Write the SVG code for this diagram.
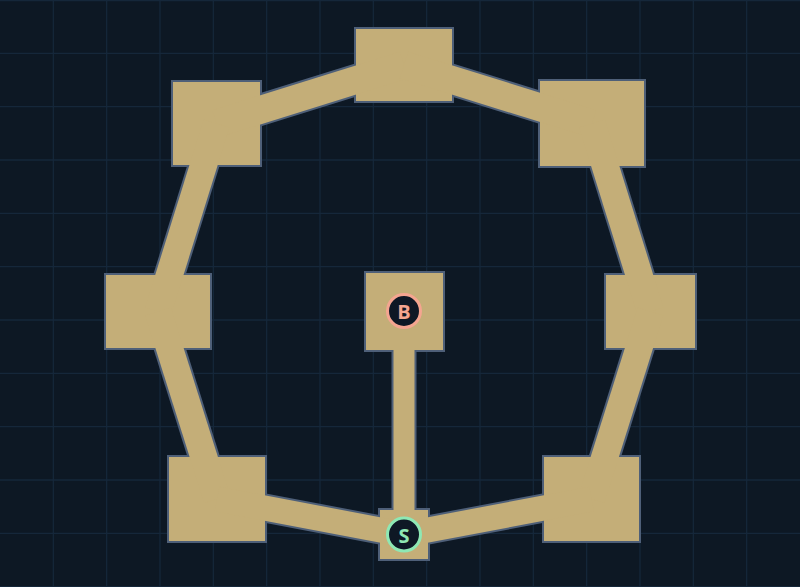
<svg xmlns="http://www.w3.org/2000/svg" width="800" height="587" viewBox="0 0 800 587">
  <style>
    .grid { stroke: #15273a; stroke-width: 1.3; fill: none; }
    .cor-out { stroke: #4e5f78; fill: none; stroke-linecap: butt; }
    .cor-in { stroke: #c4ae78; fill: none; stroke-linecap: butt; }
    .room { fill: #c4ae78; stroke: #4e5f78; stroke-width: 2; }
    .badge { fill: #0e1825; stroke-width: 3; }
    .lbl { font-family: "Open Sans", "DejaVu Sans", sans-serif; font-weight: 700; font-size: 20px; text-anchor: middle; dominant-baseline: central; }
  </style>
  <rect x="0" y="0" width="800" height="587" fill="#0d1824"/>
  <g id="grid" class="grid">
    <path d="M0,0.5H800 M0,53.33H800 M0,106.67H800 M0,160H800 M0,213.33H800 M0,266.67H800 M0,320H800 M0,373.33H800 M0,426.67H800 M0,480H800 M0,533.33H800 M0,586.67H800 M53.33,0V587 M106.67,0V587 M160,0V587 M213.33,0V587 M266.67,0V587 M320,0V587 M373.33,0V587 M426.67,0V587 M480,0V587 M533.33,0V587 M586.67,0V587 M640,0V587 M693.33,0V587 M746.67,0V587"/>
  </g>
  <g id="connectors">
    <g class="cor-out">
      <line x1="404" y1="65" x2="216.5" y2="123.5" stroke-width="32"/>
      <line x1="404" y1="65" x2="592" y2="123.5" stroke-width="32"/>
      <line x1="216.5" y1="123.5" x2="158" y2="311.5" stroke-width="31"/>
      <line x1="592" y1="123.5" x2="650.5" y2="311.5" stroke-width="31"/>
      <line x1="158" y1="311.5" x2="217" y2="499" stroke-width="31"/>
      <line x1="650.5" y1="311.5" x2="591.5" y2="499" stroke-width="31"/>
      <line x1="217" y1="499" x2="404" y2="534.5" stroke-width="29"/>
      <line x1="591.5" y1="499" x2="404" y2="534.5" stroke-width="29"/>
      <line x1="404" y1="311.5" x2="404" y2="534.5" stroke-width="25"/>
    </g>
  </g>
  <g id="rooms">
    <g id="room-top"><rect class="room" x="355" y="28" width="98" height="74"/></g>
    <g id="room-top-left"><rect class="room" x="172" y="81" width="89" height="85"/></g>
    <g id="room-top-right"><rect class="room" x="539" y="80" width="106" height="87"/></g>
    <g id="room-mid-left"><rect class="room" x="105" y="274" width="106" height="75"/></g>
    <g id="room-mid-right"><rect class="room" x="605" y="274" width="91" height="75"/></g>
    <g id="room-bottom-left"><rect class="room" x="168" y="456" width="98" height="86"/></g>
    <g id="room-bottom-right"><rect class="room" x="543" y="456" width="97" height="86"/></g>
    <g id="room-boss"><rect class="room" x="365" y="272" width="79" height="79"/></g>
    <g id="room-start"><rect class="room" x="379" y="509" width="50" height="51"/></g>
  </g>
  <g id="connector-fill" class="cor-in">
    <line x1="404" y1="65" x2="216.5" y2="123.5" stroke-width="28"/>
    <line x1="404" y1="65" x2="592" y2="123.5" stroke-width="28"/>
    <line x1="216.5" y1="123.5" x2="158" y2="311.5" stroke-width="27"/>
    <line x1="592" y1="123.5" x2="650.5" y2="311.5" stroke-width="27"/>
    <line x1="158" y1="311.5" x2="217" y2="499" stroke-width="27"/>
    <line x1="650.5" y1="311.5" x2="591.5" y2="499" stroke-width="27"/>
    <line x1="217" y1="499" x2="404" y2="534.5" stroke-width="25"/>
    <line x1="591.5" y1="499" x2="404" y2="534.5" stroke-width="25"/>
    <line x1="404" y1="311.5" x2="404" y2="534.5" stroke-width="21"/>
  </g>
  <g id="badge-boss">
    <circle class="badge" cx="404" cy="311" r="16.5" stroke="#f4a590"/>
    <text class="lbl" x="404" y="311.5" fill="#f4a590">B</text>
  </g>
  <g id="badge-start">
    <circle class="badge" cx="404" cy="534.5" r="16.5" stroke="#8ee8b4"/>
    <text class="lbl" x="404" y="535" fill="#8ee8b4">S</text>
  </g>
</svg>
